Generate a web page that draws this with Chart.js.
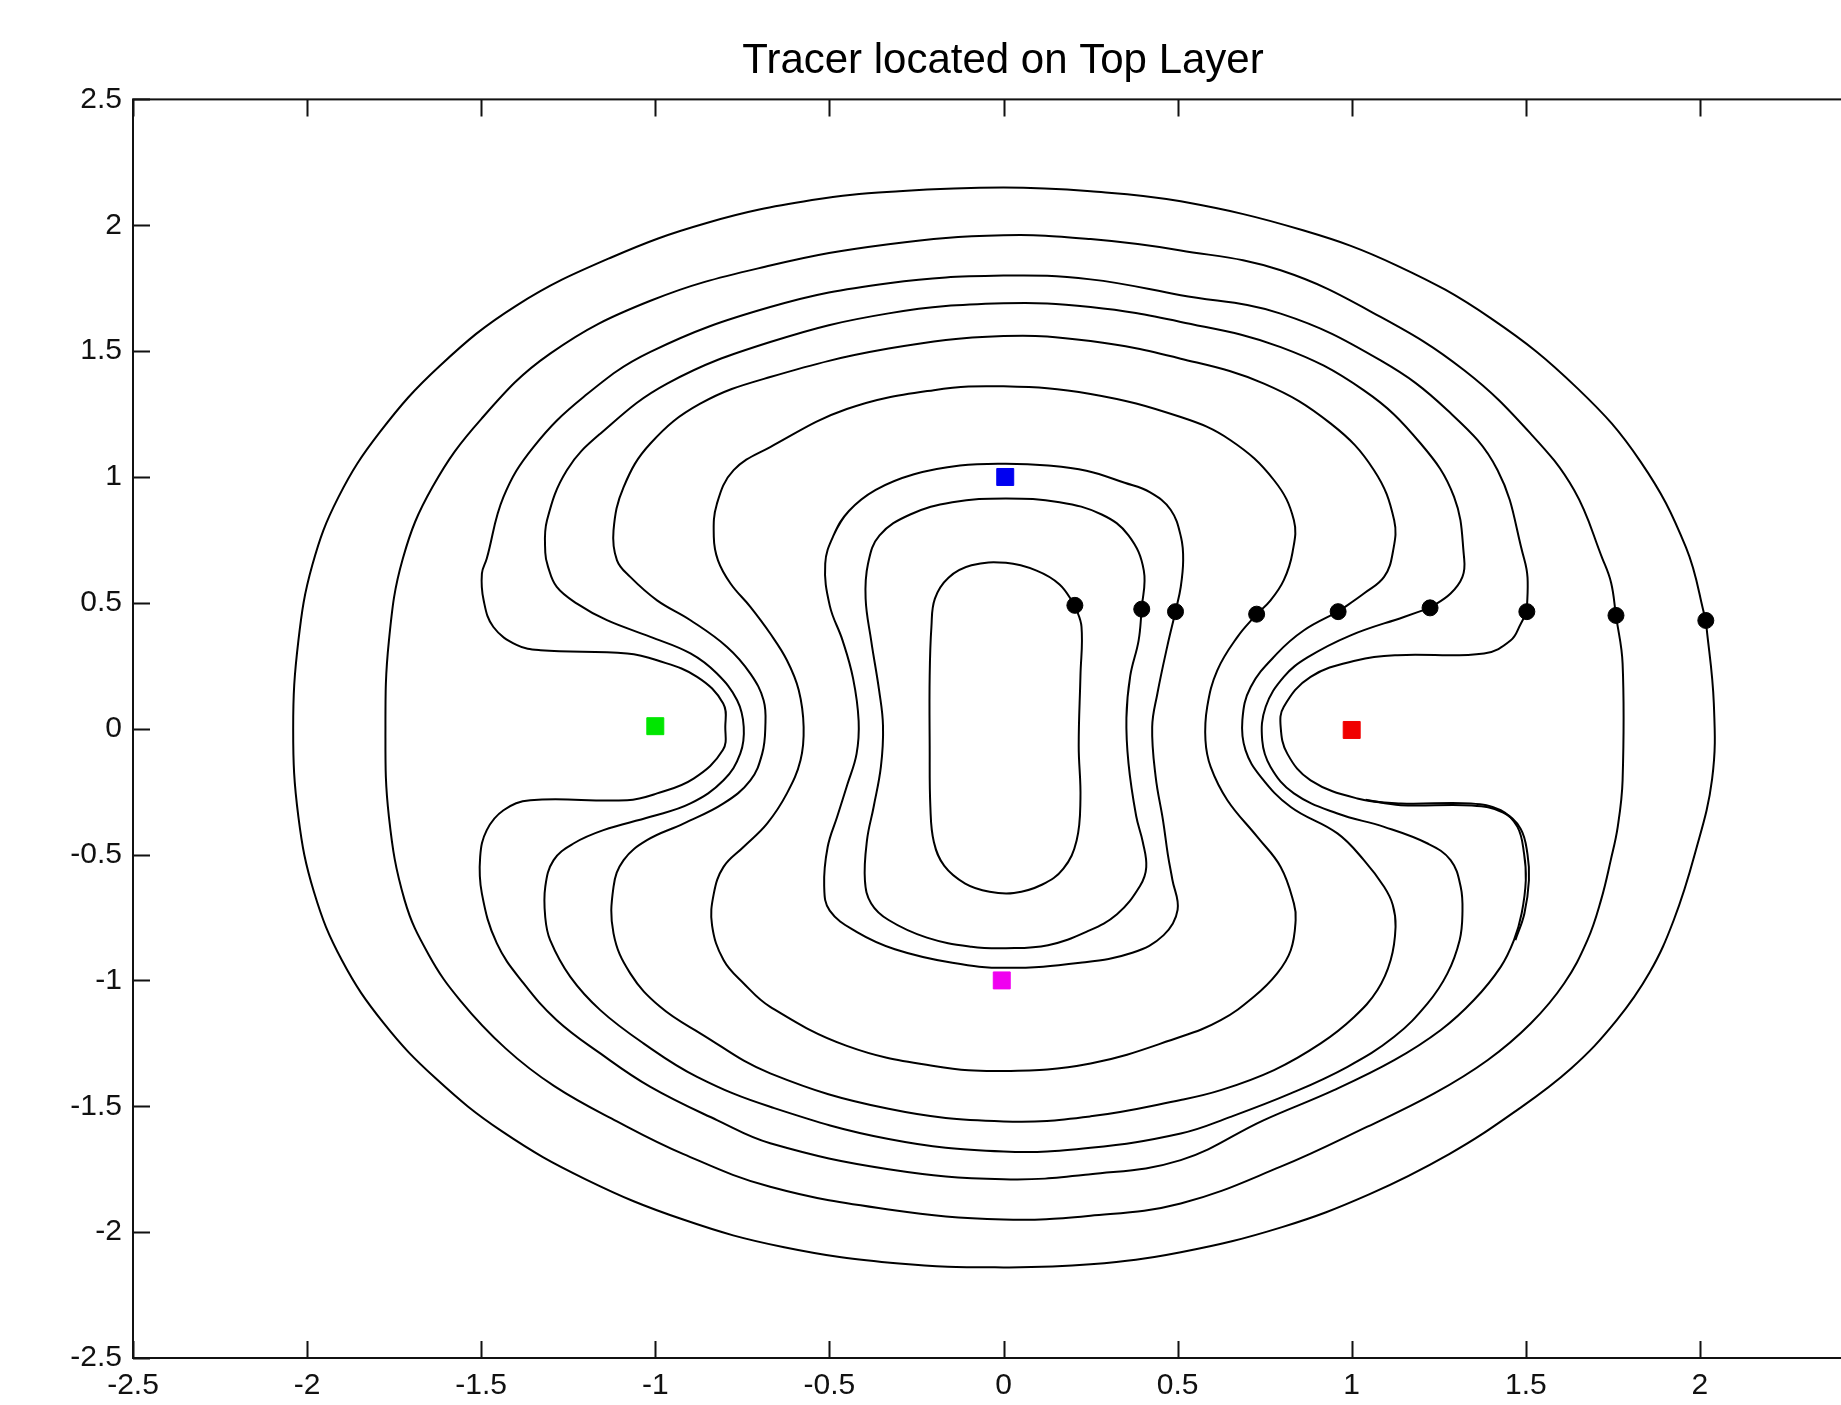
<!DOCTYPE html>
<html>
<head>
<meta charset="utf-8">
<title>Tracer located on Top Layer</title>
<script src="https://cdn.jsdelivr.net/npm/chart.js@4.4.1/dist/chart.umd.min.js"></script>
<style>
    html, body { margin: 0; padding: 0; background: #fff; overflow: hidden; }
    /* the original figure is cropped on the right, so the canvas is wider than the window */
    #wrap { width: 2006px; height: 1405px; position: relative; }
</style>
</head>
<body>
<div id="wrap"><canvas id="tracerChart"></canvas></div>
<script>
// Axis ticks
const xTickValues = [-2.5, -2, -1.5, -1, -0.5, 0, 0.5, 1, 1.5, 2, 2.5];
const xTickLabels = ['-2.5', '-2', '-1.5', '-1', '-0.5', '0', '0.5', '1', '1.5', '2', '2.5'];
const yTickValues = [-2.5, -2, -1.5, -1, -0.5, 0, 0.5, 1, 1.5, 2, 2.5];
const yTickLabels = ['-2.5', '-2', '-1.5', '-1', '-0.5', '0', '0.5', '1', '1.5', '2', '2.5'];

// Tracer seed points (black dots)
const seedX = [0.205, 0.397, 0.494, 0.727, 0.961, 1.225, 1.503, 1.759, 2.017];
const seedY = [0.49, 0.475, 0.465, 0.455, 0.465, 0.48, 0.465, 0.45, 0.43];

// Wells (coloured squares)
const wellX = [-1.0, 0.005, -0.005, 1.0];
const wellY = [0.01, 1.0, -1.0, -0.005];
const wellColors = ['#00e600', '#0000f0', '#f000f0', '#f00000'];

// Streamlines, innermost first, each starting and ending at its seed
const line1 = [[0.205,0.49],[0.161,0.573],[0.095,0.628],[0.007,0.659],[-0.092,0.649],[-0.158,0.6],[-0.197,0.517],
    [-0.207,0.405],[-0.212,0.21],[-0.212,-0.068],[-0.21,-0.311],[-0.2,-0.45],[-0.17,-0.545],[-0.11,-0.615],[-0.04,-0.648],
    [0.03,-0.653],[0.11,-0.62],[0.172,-0.556],[0.21,-0.444],[0.221,-0.277],[0.216,-0.068],[0.221,0.21],[0.224,0.405],[0.205,0.49]];

const line2 = [[0.397,0.475],[0.403,0.628],[0.359,0.768],[0.282,0.851],[0.161,0.9],[0.007,0.915],[-0.147,0.9],
    [-0.268,0.851],[-0.356,0.768],[-0.389,0.656],[-0.396,0.517],[-0.38,0.35],[-0.357,0.15],[-0.346,0.01],[-0.352,-0.15],
    [-0.373,-0.311],[-0.392,-0.443],[-0.398,-0.602],[-0.38,-0.694],[-0.33,-0.76],[-0.22,-0.83],[-0.092,-0.866],[0.007,-0.872],
    [0.128,-0.86],[0.238,-0.807],[0.326,-0.737],[0.392,-0.625],[0.41,-0.55],[0.4,-0.45],[0.381,-0.347],[0.359,-0.138],
    [0.353,0.043],[0.364,0.21],[0.388,0.35],[0.397,0.475]];

const line3 = [[0.494,0.465],[0.509,0.563],[0.516,0.669],[0.51,0.76],[0.48,0.87],[0.42,0.94],[0.348,0.977],[0.238,1.025],
    [0.128,1.046],[0.007,1.053],[-0.125,1.046],[-0.257,1.011],[-0.367,0.949],[-0.444,0.865],[-0.488,0.768],[-0.512,0.656],
    [-0.499,0.489],[-0.462,0.35],[-0.432,0.2],[-0.416,0.03],[-0.422,-0.1],[-0.448,-0.22],[-0.477,-0.347],[-0.505,-0.47],
    [-0.515,-0.625],[-0.499,-0.723],[-0.422,-0.807],[-0.312,-0.876],[-0.147,-0.93],[0.007,-0.95],[0.22,-0.93],[0.37,-0.89],
    [0.46,-0.82],[0.5,-0.72],[0.485,-0.6],[0.472,-0.5],[0.458,-0.363],[0.437,-0.191],[0.427,0.007],[0.442,0.14],
    [0.47,0.325],[0.494,0.465]];

const line4 = [[0.727,0.455],[0.767,0.51],[0.805,0.59],[0.83,0.7],[0.834,0.828],[0.777,0.987],[0.652,1.146],[0.509,1.238],
    [0.25,1.33],[0,1.36],[-0.2,1.345],[-0.45,1.27],[-0.67,1.119],[-0.775,1.027],[-0.823,0.894],[-0.832,0.762],[-0.82,0.669],
    [-0.784,0.577],[-0.727,0.484],[-0.67,0.378],[-0.622,0.272],[-0.588,0.153],[-0.574,0.007],[-0.583,-0.125],[-0.622,-0.257],
    [-0.679,-0.377],[-0.746,-0.469],[-0.804,-0.549],[-0.832,-0.655],[-0.837,-0.781],[-0.804,-0.919],[-0.746,-1.012],
    [-0.67,-1.105],[-0.45,-1.26],[-0.2,-1.34],[0,-1.36],[0.25,-1.33],[0.509,-1.224],[0.624,-1.158],[0.719,-1.065],
    [0.786,-0.972],[0.825,-0.88],[0.839,-0.761],[0.834,-0.694],[0.796,-0.549],[0.729,-0.43],[0.643,-0.284],[0.595,-0.152],
    [0.58,-0.046],[0.585,0.087],[0.614,0.232],[0.672,0.365],[0.727,0.455]];

const line5 = [[0.961,0.465],[1.035,0.537],[1.093,0.603],[1.118,0.7],[1.122,0.828],[1.064,1.027],[0.94,1.212],[0.748,1.371],
    [0.509,1.47],[0.25,1.54],[0,1.56],[-0.33,1.51],[-0.67,1.397],[-0.871,1.291],[-1.014,1.133],[-1.091,0.96],[-1.12,0.788],
    [-1.11,0.669],[-1.072,0.603],[-0.995,0.51],[-0.899,0.431],[-0.794,0.325],[-0.727,0.219],[-0.689,0.113],[-0.684,0.007],
    [-0.693,-0.099],[-0.727,-0.205],[-0.804,-0.297],[-0.919,-0.377],[-1.024,-0.443],[-1.091,-0.522],[-1.12,-0.628],
    [-1.12,-0.813],[-1.072,-0.972],[-0.986,-1.105],[-0.871,-1.21],[-0.67,-1.369],[-0.33,-1.51],[0,-1.56],[0.25,-1.54],
    [0.509,-1.475],[0.624,-1.436],[0.777,-1.356],[0.911,-1.25],[1.007,-1.145],[1.074,-1.038],[1.112,-0.919],[1.126,-0.787],
    [1.118,-0.7],[1.093,-0.628],[1.035,-0.522],[0.959,-0.416],[0.825,-0.311],[0.739,-0.191],[0.695,-0.085],[0.686,0.034],
    [0.71,0.166],[0.786,0.299],[0.863,0.391],[0.961,0.465]];

const line6 = [[1.225,0.48],[1.284,0.537],[1.318,0.603],[1.323,0.676],[1.294,0.921],[1.198,1.133],[1.035,1.344],[0.796,1.516],
    [0.509,1.616],[0.25,1.675],[0,1.69],[-0.33,1.65],[-0.67,1.536],[-0.966,1.371],[-1.158,1.172],[-1.254,1.027],[-1.311,0.828],
    [-1.316,0.7],[-1.308,0.643],[-1.283,0.563],[-1.225,0.497],[-1.139,0.431],[-1.014,0.365],[-0.899,0.299],[-0.823,0.219],
    [-0.765,0.113],[-0.746,0.007],[-0.756,-0.099],[-0.804,-0.205],[-0.899,-0.297],[-1.014,-0.35],[-1.149,-0.403],
    [-1.235,-0.456],[-1.292,-0.522],[-1.316,-0.628],[-1.316,-0.75],[-1.302,-0.84],[-1.244,-0.986],[-1.158,-1.118],
    [-1.034,-1.25],[-0.88,-1.383],[-0.67,-1.502],[-0.33,-1.63],[0,-1.68],[0.25,-1.665],[0.509,-1.608],[0.652,-1.542],
    [0.825,-1.449],[0.988,-1.343],[1.122,-1.224],[1.218,-1.091],[1.275,-0.972],[1.31,-0.84],[1.318,-0.734],[1.313,-0.628],
    [1.284,-0.522],[1.218,-0.456],[1.093,-0.39],[0.959,-0.337],[0.834,-0.257],[0.767,-0.152],[0.743,-0.046],[0.753,0.087],
    [0.805,0.206],[0.873,0.283],[0.997,0.371],[1.15,0.444],[1.225,0.48]];

const line7 = [[1.503,0.465],[1.505,0.6],[1.495,0.676],[1.419,1.027],[1.275,1.265],[1.083,1.463],[0.796,1.649],[0.509,1.722],
    [0.25,1.785],[0,1.8],[-0.33,1.77],[-0.67,1.675],[-1.014,1.497],[-1.206,1.318],[-1.35,1.119],[-1.436,0.921],[-1.484,0.676],
    [-1.498,0.616],[-1.493,0.51],[-1.465,0.404],[-1.397,0.332],[-1.33,0.312],[-1.081,0.299],[-0.995,0.272],[-0.88,0.206],
    [-0.805,0.1],[-0.799,0.007],[-0.806,-0.085],[-0.89,-0.198],[-0.995,-0.257],[-1.081,-0.284],[-1.359,-0.284],[-1.436,-0.324],
    [-1.484,-0.403],[-1.503,-0.509],[-1.498,-0.655],[-1.455,-0.853],[-1.378,-1.012],[-1.283,-1.158],[-1.158,-1.29],
    [-1.014,-1.423],[-0.823,-1.555],[-0.67,-1.647],[-0.33,-1.75],[0,-1.79],[0.25,-1.77],[0.509,-1.714],[0.748,-1.555],
    [0.949,-1.436],[1.122,-1.317],[1.256,-1.197],[1.351,-1.078],[1.428,-0.946],[1.466,-0.84],[1.488,-0.734],[1.5,-0.602],
    [1.495,-0.496],[1.476,-0.39],[1.428,-0.324],[1.342,-0.297],[1.141,-0.297],[1.016,-0.277],[0.882,-0.205],[0.815,-0.099],
    [0.796,0.007],[0.805,0.087],[0.882,0.206],[1.016,0.272],[1.131,0.292],[1.38,0.299],[1.457,0.351],[1.486,0.418],[1.503,0.465]];

// second, nearly coincident trace of line7 below the red well
const line7Twin = [[1.04,-0.282],[1.141,-0.304],[1.345,-0.305],[1.435,-0.333],[1.485,-0.397],[1.505,-0.5],[1.509,-0.602],
    [1.496,-0.734],[1.47,-0.84]];

const line8 = [[1.759,0.45],[1.745,0.58],[1.72,0.676],[1.639,0.947],[1.514,1.172],[1.323,1.424],[1.083,1.636],[0.796,1.821],
    [0.509,1.9],[0.25,1.945],[0,1.96],[-0.33,1.925],[-0.67,1.84],[-1.014,1.7],[-1.302,1.49],[-1.5,1.23],[-1.64,0.96],
    [-1.725,0.676],[-1.765,0.35],[-1.775,0],[-1.765,-0.35],[-1.72,-0.681],[-1.65,-0.9],[-1.56,-1.08],[-1.43,-1.27],
    [-1.29,-1.42],[-1.11,-1.56],[-0.919,-1.69],[-0.67,-1.82],[-0.33,-1.91],[0,-1.95],[0.25,-1.935],[0.509,-1.886],
    [0.796,-1.74],[1.045,-1.581],[1.237,-1.449],[1.39,-1.317],[1.514,-1.171],[1.61,-1.012],[1.677,-0.84],[1.716,-0.681],
    [1.744,-0.522],[1.764,-0.39],[1.778,-0.205],[1.778,0.259],[1.759,0.45]];

const line9 = [[2.017,0.43],[1.96,0.72],[1.83,1.06],[1.65,1.35],[1.4,1.63],[1.13,1.84],[0.86,1.98],[0.509,2.095],
    [0.25,2.135],[0,2.15],[-0.3,2.135],[-0.55,2.1],[-0.85,2.01],[-1.13,1.87],[-1.4,1.68],[-1.62,1.44],[-1.79,1.18],
    [-1.91,0.92],[-1.985,0.65],[-2.025,0.35],[-2.04,0],[-2.025,-0.35],[-1.98,-0.65],[-1.9,-0.92],[-1.78,-1.17],
    [-1.63,-1.39],[-1.44,-1.6],[-1.2,-1.79],[-0.92,-1.95],[-0.63,-2.06],[-0.3,-2.125],[0,-2.14],[0.25,-2.128],[0.509,-2.08],
    [0.8,-1.98],[1.05,-1.85],[1.28,-1.69],[1.47,-1.52],[1.63,-1.35],[1.76,-1.16],[1.855,-0.97],[1.925,-0.76],
    [1.985,-0.5],[2.035,-0.2],[2.04,0.1],[2.017,0.43]];

const streamlines = [line1, line2, line3, line4, line5, line6, line7, line7Twin, line8, line9];

const FONT = "'Liberation Sans', Arial, Helvetica, sans-serif";
const TICK_LEN = 17;

// MATLAB style box with inward ticks on every side
const boxPlugin = {
    id: 'matlabBox',
    afterDraw(chart) {
        const { ctx, chartArea: a } = chart;
        const xs = chart.scales.x;
        const ys = chart.scales.y;
        ctx.save();
        ctx.strokeStyle = '#111';
        ctx.lineWidth = 2;
        ctx.beginPath();
        xTickValues.forEach(v => {
            const px = Math.round(xs.getPixelForValue(v)) + 0.5;
            ctx.moveTo(px, a.bottom);
            ctx.lineTo(px, a.bottom - TICK_LEN);
            ctx.moveTo(px, a.top);
            ctx.lineTo(px, a.top + TICK_LEN);
        });
        yTickValues.forEach(v => {
            const py = Math.round(ys.getPixelForValue(v)) + 0.5;
            ctx.moveTo(a.left, py);
            ctx.lineTo(a.left + TICK_LEN, py);
            ctx.moveTo(a.right, py);
            ctx.lineTo(a.right - TICK_LEN, py);
        });
        ctx.stroke();
        ctx.strokeRect(a.left, a.top, a.right - a.left, a.bottom - a.top);
        ctx.restore();
    }
};

const datasets = [];

// wells on top
wellX.forEach((x, i) => {
    datasets.push({
        data: [{ x: x, y: wellY[i] }],
        pointStyle: 'rect',
        pointRadius: 12,
        backgroundColor: wellColors[i],
        borderColor: wellColors[i],
        borderWidth: 1,
        showLine: false
    });
});

datasets.push({
    data: seedX.map((x, i) => ({ x: x, y: seedY[i] })),
    pointStyle: 'circle',
    pointRadius: 8,
    backgroundColor: '#000',
    borderColor: '#000',
    borderWidth: 1,
    showLine: false
});

streamlines.forEach(pts => {
    datasets.push({
        data: pts.map(([x, y]) => ({ x: x, y: y })),
        showLine: true,
        borderColor: '#000',
        borderWidth: 2,
        pointRadius: 0,
        tension: 0.4,
        borderJoinStyle: 'round',
        fill: false
    });
});

const ctx = document.getElementById('tracerChart').getContext('2d');
new Chart(ctx, {
    type: 'scatter',
    data: { datasets: datasets },
    plugins: [boxPlugin],
    options: {
        responsive: true,
        maintainAspectRatio: false,
        animation: false,
        layout: { padding: 0 },
        plugins: {
            legend: { display: false },
            tooltip: { enabled: false },
            title: {
                display: true,
                text: 'Tracer located on Top Layer',
                color: '#000',
                font: { family: FONT, size: 42, weight: 'normal' },
                padding: { top: 36, bottom: 13 }
            }
        },
        scales: {
            x: {
                type: 'linear',
                min: -2.5,
                max: 2.5,
                grid: { display: false },
                border: { display: false },
                afterBuildTicks: scale => { scale.ticks = xTickValues.map(v => ({ value: v })); },
                afterFit: scale => { scale.height = 47; },
                ticks: {
                    autoSkip: false,
                    maxRotation: 0,
                    color: '#111',
                    padding: 2,
                    font: { family: FONT, size: 30 },
                    callback: (value, index) => xTickLabels[index]
                }
            },
            y: {
                type: 'linear',
                min: -2.5,
                max: 2.5,
                grid: { display: false },
                border: { display: false },
                afterBuildTicks: scale => { scale.ticks = yTickValues.map(v => ({ value: v })); },
                afterFit: scale => { scale.width = 133; },
                ticks: {
                    autoSkip: false,
                    color: '#111',
                    padding: 3,
                    font: { family: FONT, size: 30 },
                    callback: (value, index) => yTickLabels[index]
                }
            },
            // empty right-hand spacer so the plot (and title) stay centred; it lies past the window edge
            spacer: {
                type: 'linear',
                position: 'right',
                display: true,
                grid: { display: false },
                border: { display: false },
                ticks: { display: false },
                afterFit: scale => { scale.width = 132; }
            }
        }
    }
});
</script>
</body>
</html>
